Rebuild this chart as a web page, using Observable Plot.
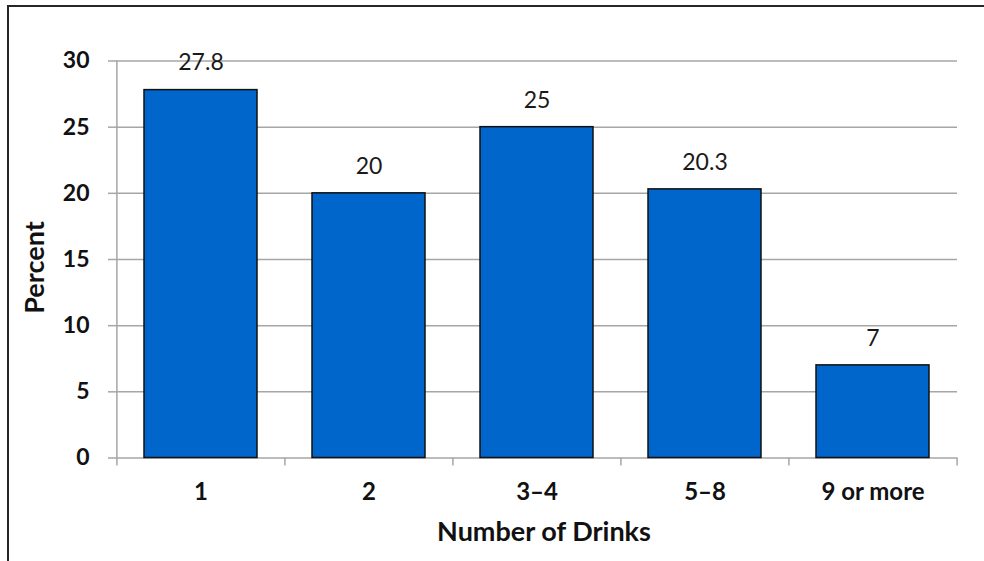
<!DOCTYPE html>
<html>
<head>
<meta charset="utf-8">
<script src="https://cdn.jsdelivr.net/npm/d3@7"></script>
<script src="https://cdn.jsdelivr.net/npm/@observablehq/plot@0.6"></script>
<style>
  html, body { margin: 0; padding: 0; background: #fff; overflow: hidden; }
  #wrap { position: relative; width: 984px; height: 561px; }
  #border { position: absolute; left: 7px; top: 5px; width: 1200px; height: 1200px;
            border-left: 2px solid #262626; border-top: 2px solid #262626; pointer-events: none; }
  #chart { position: absolute; left: 0; top: 0; }
</style>
</head>
<body>
<div id="wrap"><div id="chart"></div><div id="border"></div></div>
<script>
const categories = ["1", "2", "3–4", "5–8", "9 or more"];
const values = [27.8, 20, 25, 20.3, 7];
const yTicks = [0, 5, 10, 15, 20, 25, 30];
const xTitle = "Number of Drinks";
const yTitle = "Percent";

const data = categories.map((c, i) => ({cat: c, v: values[i]}));

const W = 984, H = 561, mL = 116, mR = 27, mT = 60.5, mB = 103.5;
const step = (W - mL - mR) / categories.length;
const font = "Lato, 'Open Sans', sans-serif";
const grid = "#a6a6a6";

const chart = Plot.plot({
  width: W, height: H,
  marginLeft: mL, marginRight: mR, marginTop: mT, marginBottom: mB,
  style: {fontFamily: font, background: "transparent", color: "black"},
  x: {domain: categories, paddingInner: 0.328, paddingOuter: 0.164, align: 0.5},
  y: {domain: [0, 30]},
  marks: [
    Plot.gridY(yTicks, {stroke: grid, strokeOpacity: 1, strokeWidth: 1.5}),
    Plot.ruleX([categories[0]], {y1: -0.6, y2: 30, dx: -step / 2, stroke: grid, strokeWidth: 1.5}),
    Plot.ruleX(categories.slice(1), {y1: -0.6, y2: 0, dx: -step / 2, stroke: grid, strokeWidth: 1.5}),
    Plot.ruleX([categories[categories.length - 1]], {y1: -0.6, y2: 0, dx: step / 2, stroke: grid, strokeWidth: 1.5}),
    Plot.barY(data, {x: "cat", y: "v", fill: "#0066CC", stroke: "#111", strokeWidth: 1.5}),
    Plot.text(data, {x: "cat", y: "v", text: d => String(d.v), dy: -27, fontSize: 23, fill: "#1a1a1a"}),
    Plot.axisY({ticks: yTicks, tickSize: 8, tickPadding: 19, stroke: grid, strokeWidth: 1.5, fill: "#111",
      fontSize: 23, fontWeight: "bold", label: null}),
    Plot.axisX({tickSize: 0, tickPadding: 25, fill: "#111", fontSize: 24, fontWeight: "bold", label: null}),
    Plot.text([xTitle], {frameAnchor: "bottom", lineAnchor: "middle", textAnchor: "middle", dy: 74.5, dx: 7,
      fontSize: 27, fontWeight: "bold", fill: "#111"}),
    Plot.text([yTitle], {frameAnchor: "left", lineAnchor: "middle", textAnchor: "middle", dx: -81.5, dy: 8, rotate: -90,
      fontSize: 27, fontWeight: "bold", fill: "#111"})
  ]
});
document.getElementById("chart").appendChild(chart);
</script>
</body>
</html>
